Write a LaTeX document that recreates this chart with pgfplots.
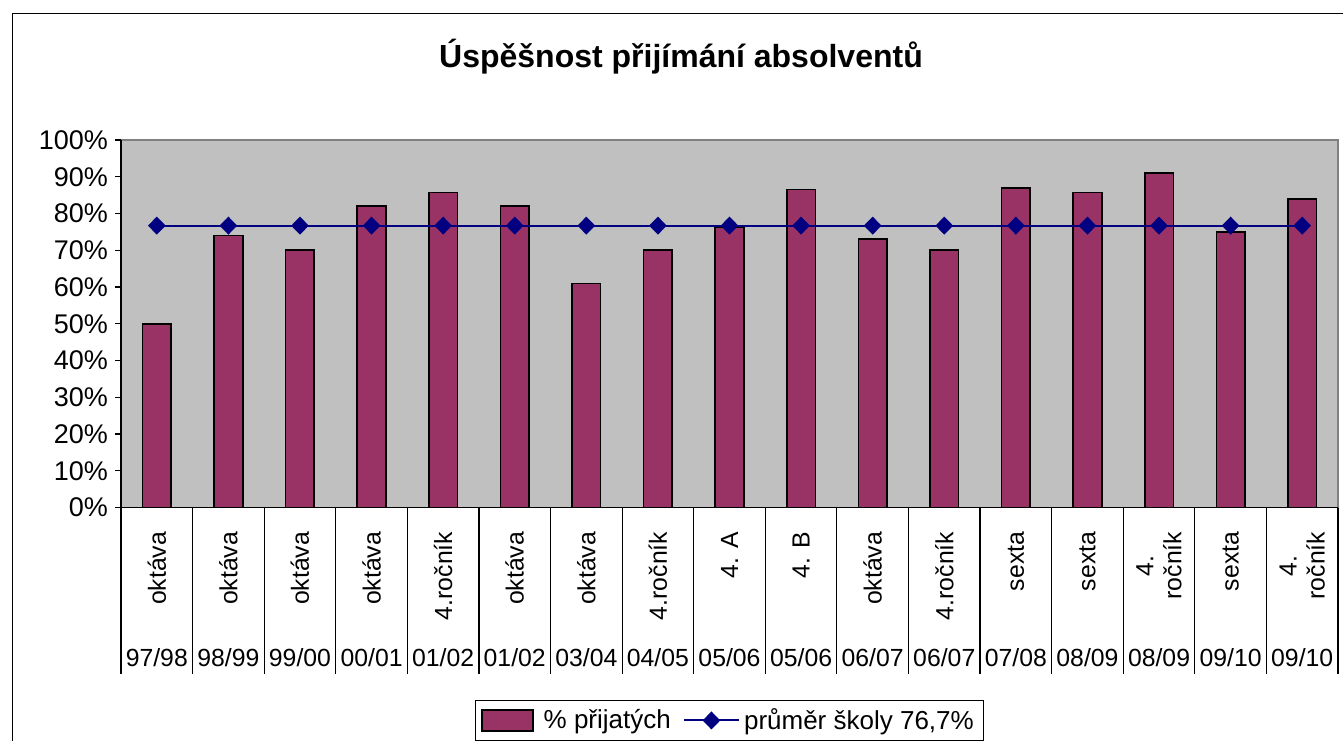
\documentclass[border=0pt]{standalone}
\usepackage{fontspec}
\setmainfont{Liberation Sans}
\usepackage{pgfplots}
\pgfplotsset{compat=1.18}
\definecolor{barc}{RGB}{153,51,102}
\definecolor{linec}{RGB}{0,0,128}
\definecolor{bgc}{RGB}{192,192,192}
\definecolor{framec}{RGB}{128,128,128}
\newcommand{\tf}{\fontsize{13.5}{15}\selectfont}
\newcommand{\rf}{\fontsize{13.3}{15}\selectfont}
\newcommand{\yf}{\fontsize{12.4}{14}\selectfont}
\newcommand{\yr}[1]{\raisebox{-73pt}[0pt][0pt]{#1}}
\pgfplotsset{
  barlegend/.style={legend image code/.code={\draw[##1] (0cm,-0.185cm) rectangle (0.9cm,0.185cm); \path (1.0cm,0cm);}},
  linelegend/.style={legend image code/.code={\draw[mark repeat=2,mark phase=2,##1] plot coordinates {(0cm,0cm) (0.485cm,0cm) (0.97cm,0cm)};}},
}
\begin{document}
\begin{tikzpicture}[x=1pt,y=1pt]
\path[use as bounding box] (0,0) rectangle (671.5,370);
\draw[black, line width=0.5pt] (6,363) rectangle (700,-20);
\node[font=\fontsize{16}{19}\selectfont\bfseries] at (340.5,341.5) {Úspěšnost přijímání absolventů};
\begin{axis}[
  at={(60.5pt,116.25pt)}, anchor=south west,
  scale only axis, width=608.5pt, height=183.75pt,
  xmin=-0.5, xmax=16.5, ymin=0, ymax=100,
  axis lines=left, axis line style={-, black, line width=0.6pt},
  axis background/.style={fill=bgc, draw=framec, line width=0.6pt},
  /pgf/number format/assume math mode=true,
  ytick={0,10,...,100},
  yticklabel={\pgfmathprintnumber{\tick}\%},
  yticklabel style={font=\tf},
  tick style={black, line width=0.6pt},
  tick align=outside,
  major tick length=3pt,
  xtick={0,...,16},
  xticklabels={\yr{97/98},\yr{98/99},\yr{99/00},\yr{00/01},\yr{01/02},\yr{01/02},\yr{03/04},\yr{04/05},\yr{05/06},\yr{05/06},\yr{06/07},\yr{06/07},\yr{07/08},\yr{08/09},\yr{08/09},\yr{09/10},\yr{09/10}},
  major x tick style={draw=none},
  xticklabel style={font=\yf},
  minor xtick={-0.5,0.5,...,16.5},
  minor tick length=83pt,
  extra x ticks={0,...,16},
  extra x tick labels={okt\'ava,okt\'ava,okt\'ava,okt\'ava,4.ročník,okt\'ava,okt\'ava,4.ročník,4. A,4. B,okt\'ava,4.ročník,sexta,sexta,{4.\\ročník},sexta,{4.\\ročník}},
  extra x tick style={tick label style={rotate=90, anchor=east, align=center, inner xsep=9pt, font=\rf}},
  legend style={at={(0.5,-0.524)}, anchor=north, legend columns=2, draw=black, font=\fontsize{13}{15}\selectfont,
    /tikz/every even column/.append style={column sep=4pt}},
]
\addplot[ybar, bar width=0.4, fill=barc, draw=black, line width=0.8pt, area legend, barlegend]
  coordinates {(0,50) (1,74) (2,70) (3,82) (4,85.7) (5,82) (6,61) (7,70) (8,76.3) (9,86.5) (10,73) (11,70) (12,87) (13,85.7) (14,91) (15,75) (16,84)};
\addlegendentry{\% přijatých}
\addplot[linec, line width=1pt, mark=diamond*, mark size=3.8pt, mark options={fill=linec, draw=linec, xscale=1.3}, linelegend]
  coordinates {(0,76.7) (1,76.7) (2,76.7) (3,76.7) (4,76.7) (5,76.7) (6,76.7) (7,76.7) (8,76.7) (9,76.7) (10,76.7) (11,76.7) (12,76.7) (13,76.7) (14,76.7) (15,76.7) (16,76.7)};
\addlegendentry{průměr školy 76,7\%}
\end{axis}
\end{tikzpicture}
\end{document}
